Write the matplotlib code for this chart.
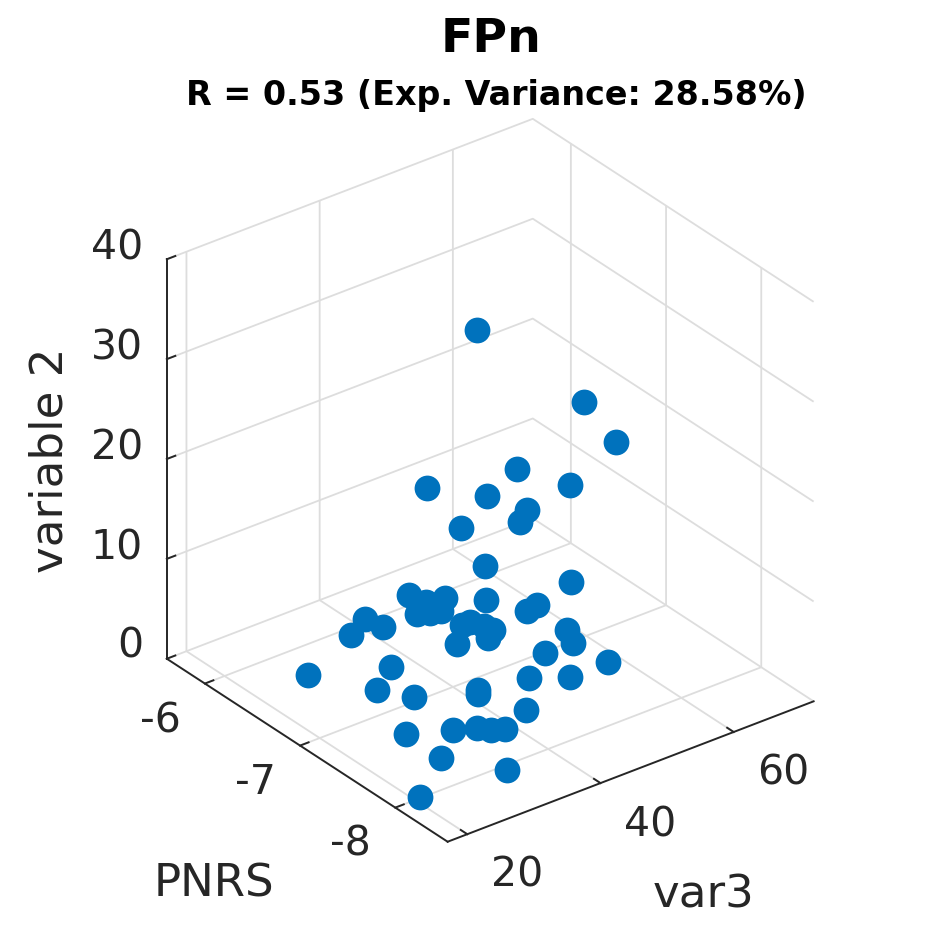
import matplotlib
matplotlib.use("Agg")
import matplotlib.pyplot as plt

var3 = [43.07,52.85,54.38,48.37,52.44,45.82,47.45,47.76,48.27,46.13,47.15,54.48,41.55,43.07,42.16,45.31,50.71,50.41,41.04,42.36,42.26,
        36.76,37.37,34.72,43.68,43.48,44.19,45.82,44.19,41.85,51.43,52.95,48.98,54.99,33.81,26.27,50.71,45.31,29.12,31.56,37.17,36.56,
        40.32,26.98,30.44,32.99,34.21,36.96,26.78,31.26,19.14]
pnrs = [-7.04,-7.48,-7.71,-7.09,-7.36,-6.32,-6.84,-7.24,-7.13,-6.66,-6.84,-7.23,-6.43,-6.70,-6.57,-6.98,-7.13,-7.05,
        -6.55,-6.59,-6.72,-6.30,-6.45,-6.30,-6.84,-6.94,-7.03,-7.01,-7.07,-6.91,-7.40,-7.35,-7.34,-7.58,-6.78,-6.44,
        -7.48,-7.43,-6.96,-7.18,-7.46,-7.50,-7.74,-7.42,-7.67,-7.74,-7.81,-7.76,-7.80,-8.18,-8.11]
variable2 = [35.25,28.25,25.25,20.25,19.25,14.25,16.25,17.25,15.25,12.25,9.25,8.25,5.25,6.25,5.25,7.25,6.25,5.25,4.25,4.25,5.25,
             3.25,3.25,2.25,4.25,5.25,5.25,4.25,4.25,3.25,5.25,3.25,3.25,2.25,2.25,1.25,1.25,2.25,2.25,2.25,3.25,3.25,
             2.25,1.25,2.25,2.25,2.25,1.25,1.25,1.25,1.25]
x_ticks = [20,40,60]
y_ticks = [-8,-7,-6]
z_ticks = [0,10,20,30,40]
title = 'FPn'
subtitle = 'R = 0.53 (Exp. Variance: 28.58%)'

plt.rcParams['font.family'] = 'DejaVu Sans'
DARK = '#262626'
GRID = '#dddddd'
fig = plt.figure(figsize=(9.45,9.45), dpi=100)
ax = fig.add_axes([(490-10)/945-0.4, 1-(479+12.5)/945-0.4, 0.8, 0.8], projection='3d')
ax.set_proj_type('ortho')
ax.view_init(elev=30, azim=-127.5)
ax.set_box_aspect((1,1,1), zoom=1.026)
ax.patch.set_alpha(0)

ax.scatter(var3, pnrs, variable2, s=345, c='#0072BD', depthshade=False, linewidths=0, alpha=1)
ax.set_xlim(17.05,72, view_margin=0)
ax.set_ylim(-8.55,-5.6, view_margin=0)
ax.set_zlim(0,40, view_margin=0)
ax.set_xticks(x_ticks)
ax.set_yticks(y_ticks)
ax.set_zticks(z_ticks)
ax.set_xticklabels([])
ax.set_yticklabels([])
ax.set_zticklabels([])

for a in (ax.xaxis, ax.yaxis, ax.zaxis):
    a.set_pane_color((1,1,1,0))
    a.pane.set_edgecolor((1,1,1,0))
    a.line.set_color(DARK)
    a.line.set_linewidth(1.4)
    a._axinfo['grid'].update(color=GRID, linewidth=1.3)
    a._axinfo['tick'].update(inward_factor=0.0, outward_factor=0.29, linewidth={True:1.4, False:1.4}, color=DARK)
    a.set_tick_params(color=DARK)

def t(px,py,s,size,ha='center',**k):
    fig.text(px/945, 1-py/945, s, ha=ha, va='baseline', fontsize=size, rotation_mode='anchor', **k)

t(491,52,title,34,fontweight='bold',color='black')
t(496.5,105,subtitle,24,fontweight='bold',color='black')
t(63,460,'variable 2',32.5,color=DARK,rotation=90)
t(214,897,'PNRS',32.5,color=DARK)
t(704,908,'var3',32.5,color=DARK)
for v,px,py in zip(x_ticks,[517,650,783],[887,837,785]):
    t(px,py,str(v),29.5,color=DARK)
for v,px,py in zip(y_ticks,[350,255,160],[856,794,733]):
    t(px,py,str(v),29.5,color=DARK)
for v,py in zip(z_ticks,[658,559,459,359,260]):
    t(143,py,str(v),29.5,ha='right',color=DARK)
fig.savefig('out.png', dpi=100)
